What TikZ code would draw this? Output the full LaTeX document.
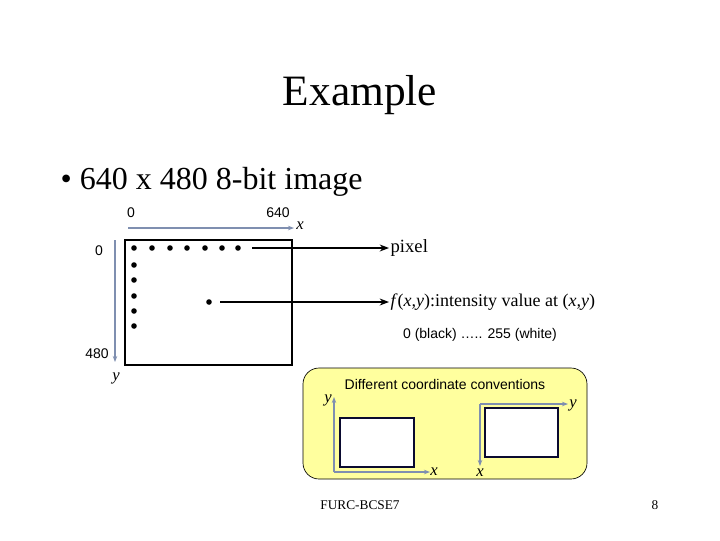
\documentclass[tikz,border=0pt]{standalone}
\usepackage{fontspec}
\setmainfont{Liberation Serif}
\setsansfont{Liberation Sans}
\usepackage{tikz}
\usetikzlibrary{arrows.meta, positioning}
\definecolor{AxisGray}{HTML}{7F8FB0}
\definecolor{PaleYellow}{HTML}{FFFF9E}
\definecolor{FrameNavy}{HTML}{0A0A30}

\begin{document}
\begin{tikzpicture}[x=0.75pt, y=-0.75pt,
    axis/.style={AxisGray, line width=1.3pt, -{Stealth[length=4.5pt]}},
    pointer/.style={black, line width=0.9pt, -{Stealth[length=7pt]}},
    dot/.style={circle, fill=black, inner sep=0pt, minimum size=4.2pt},
    lbl/.style={font=\sffamily\fontsize{10.5}{12}\selectfont, inner sep=1pt},
    var/.style={font=\itshape\fontsize{12.5}{14}\selectfont, inner sep=1pt},
    frame/.style={draw=FrameNavy, line width=1.8pt, fill=white}
]
    \useasboundingbox (0,0) rectangle (720,540);

    % Title and bullet
    \node (title) at (360,95) {\fontsize{32.5}{36}\selectfont Example};
    \node[anchor=west] (bullet) at (56,182) {\fontsize{24}{28}\selectfont \textbullet\ 640 x 480 8-bit image};

    % Image grid
    \draw[black, line width=1.2pt] (125,240) rectangle (292,365);
    \coordinate (xs) at (128,228);
    \coordinate (xe) at (294,228);
    \coordinate (ys) at (115,240);
    \coordinate (ye) at (115,362);
    \draw[axis] (xs) -- (xe);
    \draw[axis] (ys) -- (ye);
    \node[var] (xlab) at (300,226) {x};
    \node[var] (ylab) at (116,378) {y};
    \node[lbl] (xzero) at (131,213) {0};
    \node[lbl] (xmax) at (278,213) {640};
    \node[lbl] (yzero) at (99,251) {0};
    \node[lbl] (ymax) at (97,354) {480};

    % Pixels
    \foreach \px in {134,152,170,187,205,222,238}
        \node[dot] at (\px,248) {};
    \foreach \py in {265,280,296,311,326}
        \node[dot] at (134,\py) {};
    \node[dot] (pt) at (209,302) {};

    % Pointers
    \node[anchor=west, font=\fontsize{14}{16}\selectfont, inner sep=1pt] (pixel) at (389,248) {pixel};
    \node[anchor=west, font=\fontsize{13.5}{15}\selectfont, inner sep=1pt] (fxy) at (389,302)
        {\textit{f}(\textit{x,y}):intensity value at (\textit{x,y})};
    \node[lbl] (range) at (480,335) {0 (black) ….. 255 (white)};
    \coordinate (rowend) at (252,248);
    \coordinate (ptend) at (220,302);
    \draw[pointer] (rowend) -- (pixel.west);
    \draw[pointer] (ptend) -- (fxy.west);

    % Coordinate conventions
    \draw[black, line width=0.5pt, fill=PaleYellow, rounded corners=12pt] (303,368) rectangle (587,479);
    \node[lbl] (conv) at (445,384) {Different coordinate conventions};

    \coordinate (lo) at (334,472);
    \draw[axis] (lo) -- (334,397);
    \draw[axis] (lo) -- (430,472);
    \draw[frame] (340,418) rectangle (414,467);
    \node[var] (ly) at (328,400) {y};
    \node[var] (lx) at (434,472) {x};

    \coordinate (ro) at (480,404);
    \draw[axis] (ro) -- (568,404);
    \draw[axis] (ro) -- (480,466);
    \draw[frame] (485,408) rectangle (558,457);
    \node[var] (ry) at (573,405) {y};
    \node[var] (rx) at (480,473) {x};

    % Footer
    \node (foot) at (360,505) {\fontsize{10}{12}\selectfont FURC-BCSE7};
    \node (page) at (655,505) {\fontsize{10}{12}\selectfont 8};
\end{tikzpicture}
\end{document}
